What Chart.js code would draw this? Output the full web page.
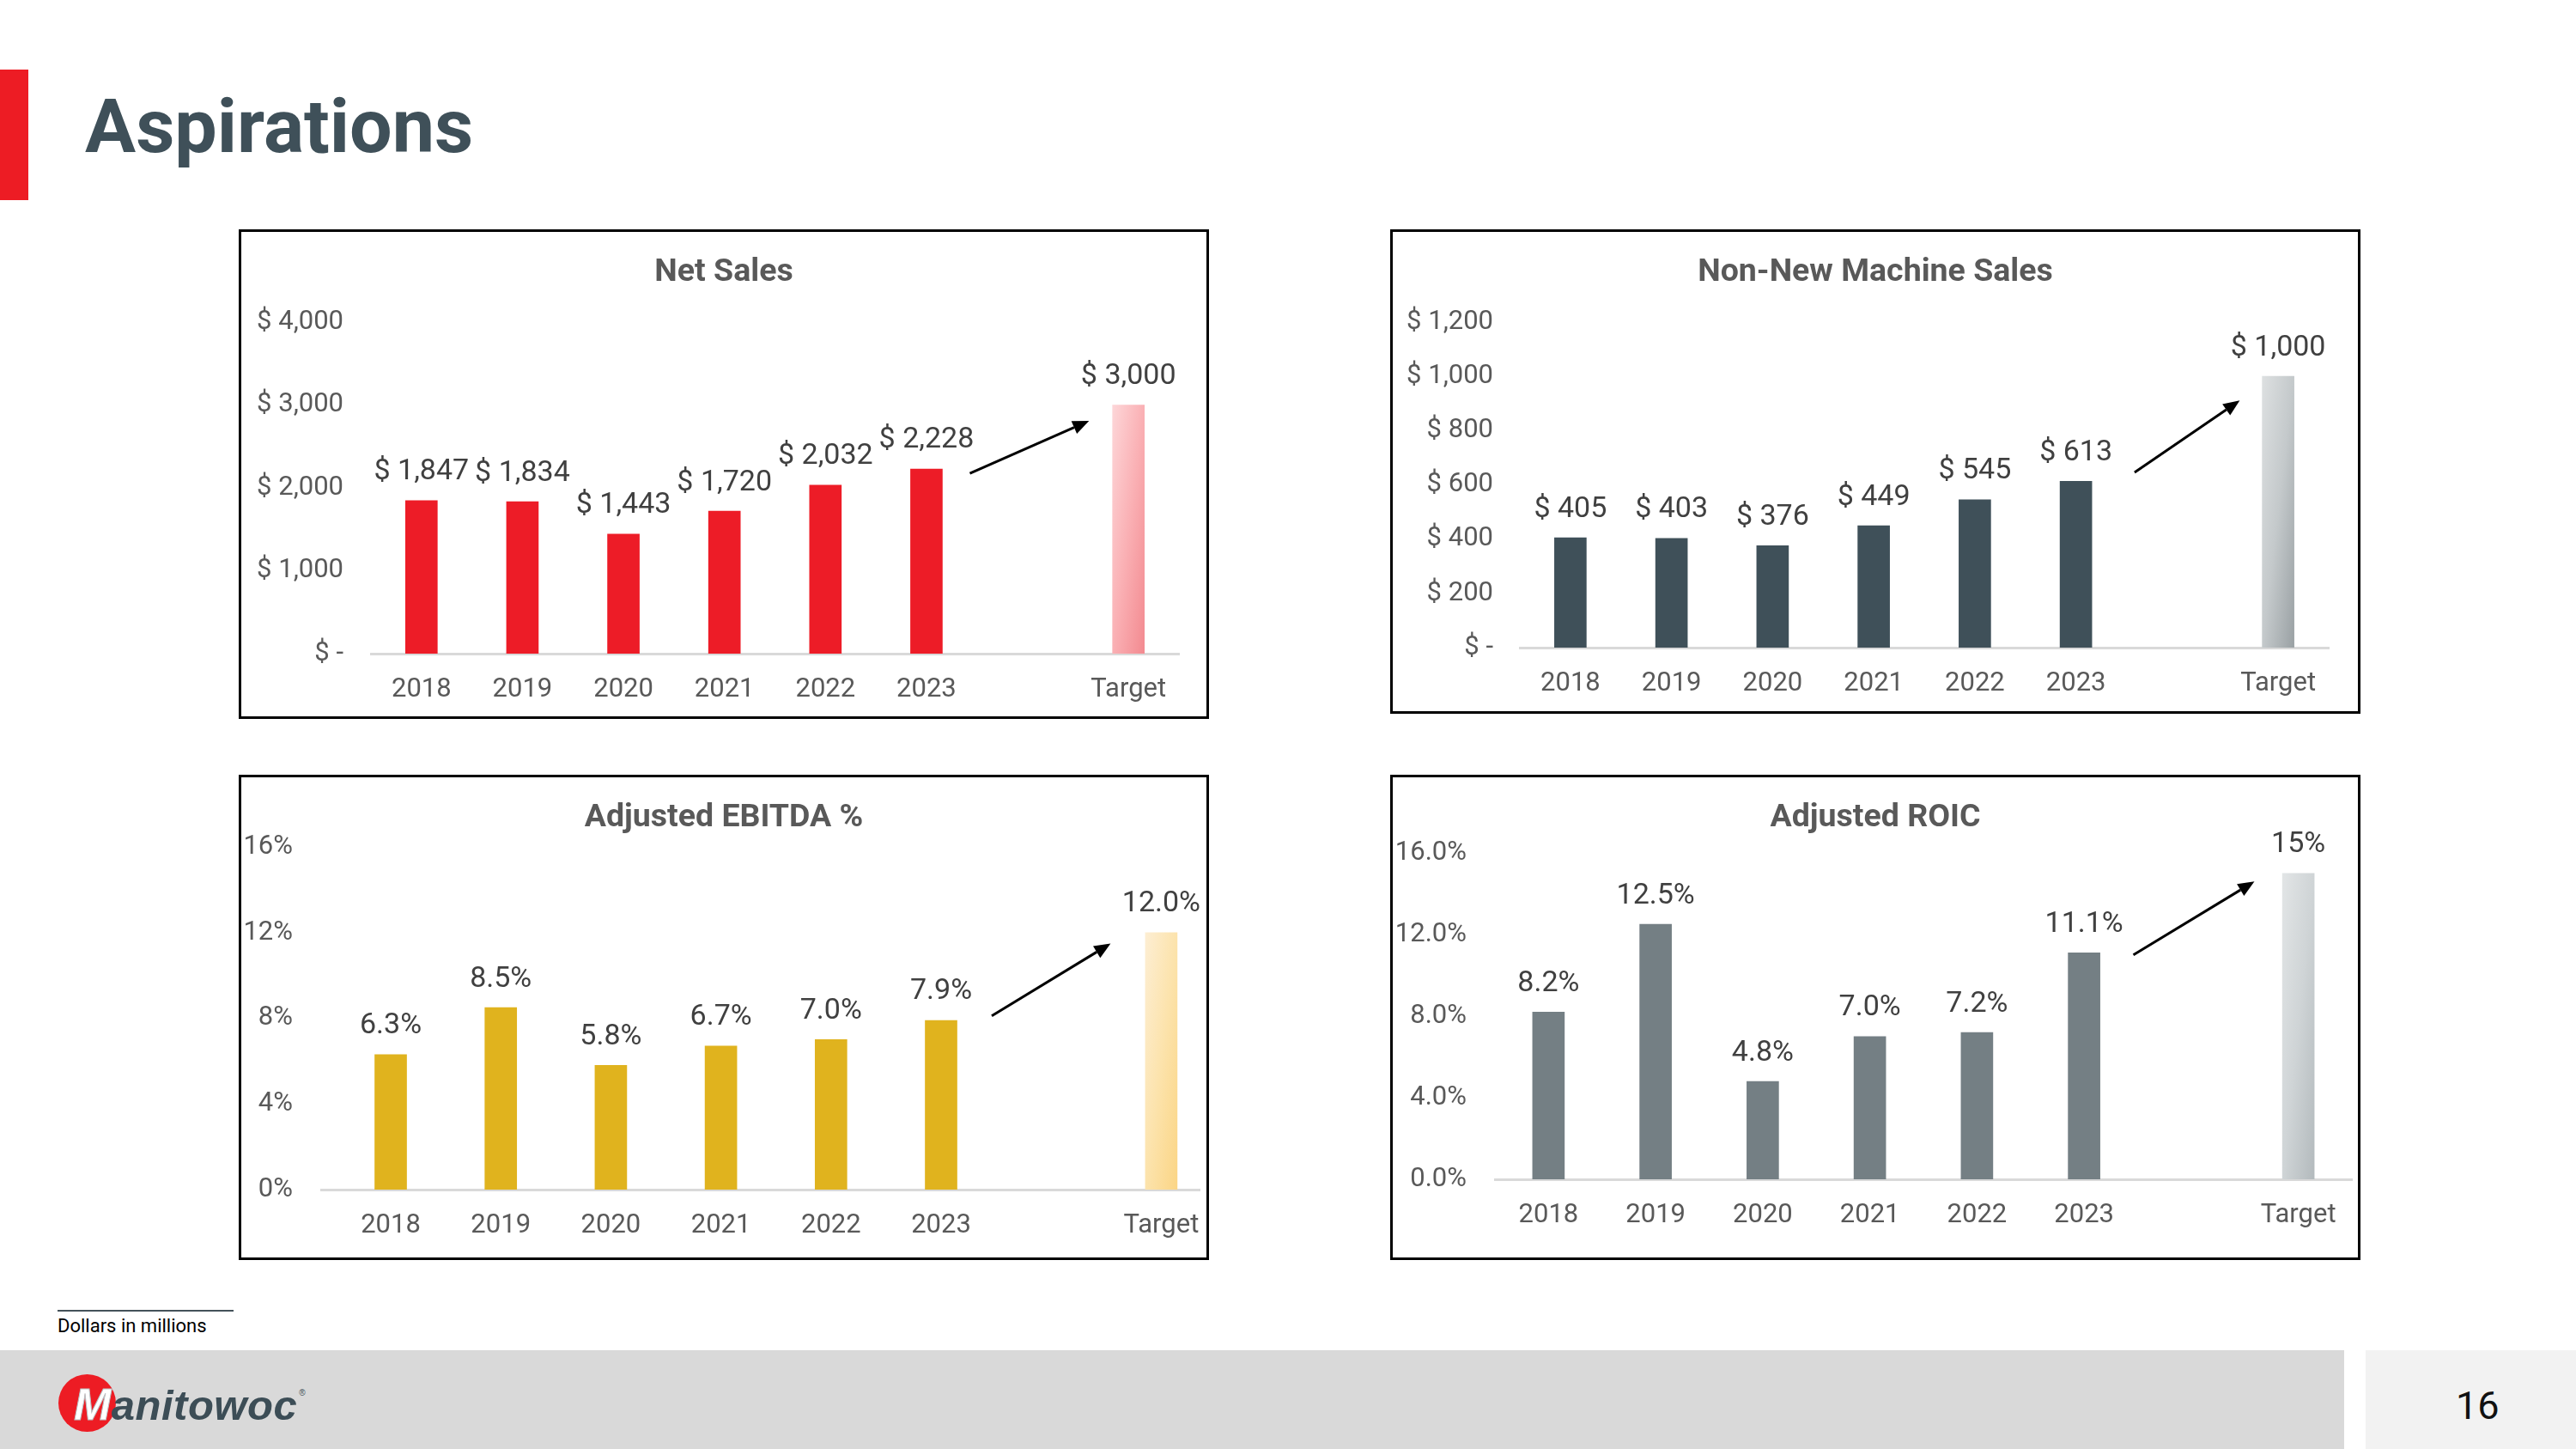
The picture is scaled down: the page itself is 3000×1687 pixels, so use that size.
<!DOCTYPE html>
<html>
<head>
<meta charset="utf-8">
<title>Aspirations</title>
<script src="https://cdn.jsdelivr.net/npm/chart.js@4.4.1/dist/chart.umd.min.js"></script>
<style>
  html, body { margin: 0; padding: 0; }
  body { width: 3000px; height: 1687px; position: relative; overflow: hidden; background: #fff; font-family: Roboto, sans-serif; }
  .abs { position: absolute; }
  .box { position: absolute; border: 3px solid #000; box-sizing: border-box; width: 1130px; background: #fff; }
  .box canvas { display: block; }
  #pageTitle { left: 99px; top: 103px; font: bold 88px/1 Roboto, sans-serif; color: #3f5059; white-space: nowrap; }
  #redTab { left: 0; top: 81px; width: 33px; height: 152px; background: #ed1c24; }
  #noteLine { left: 67px; top: 1525px; width: 205px; height: 2px; background: #44525a; }
  #note { left: 67px; top: 1533px; font: 22px/1 Roboto, sans-serif; color: #000; white-space: nowrap; }
  #footer { left: 0; top: 1572px; width: 2730px; height: 115px; background: #d9d9d9; }
  #pageBox { left: 2755px; top: 1572px; width: 245px; height: 115px; background: #f2f2f2; }
  #pageNum { left: 2860px; top: 1614px; font: 45px/1 Roboto, sans-serif; color: #111; }
  #logoDot { left: 68px; top: 1600px; width: 67px; height: 67px; border-radius: 50%; background: #ed1c24; }
  #logoText { left: 86px; top: 1609px; font: italic bold 49px/1 "Liberation Sans", Arial, sans-serif; color: #3c4d56; white-space: nowrap; letter-spacing: 0.5px; }
  #logoText .m { color: #fff; -webkit-text-stroke: 1px #b9bfc2; font-size: 52px; }
  #logoText sup { font-size: 10px; font-style: normal; font-weight: normal; vertical-align: 28px; margin-left: 2px; }
</style>
</head>
<body>
<div class="abs" id="redTab"></div>
<div class="abs" id="pageTitle">Aspirations</div>

<div class="box" style="left:278px; top:267px; height:570px;"><canvas id="netSalesChart" width="1124" height="564"></canvas></div>
<div class="box" style="left:1619px; top:267px; height:564px;"><canvas id="nonNewChart" width="1124" height="558"></canvas></div>
<div class="box" style="left:278px; top:902px; height:565px;"><canvas id="ebitdaChart" width="1124" height="559"></canvas></div>
<div class="box" style="left:1619px; top:902px; height:565px;"><canvas id="roicChart" width="1124" height="559"></canvas></div>

<div class="abs" id="noteLine"></div>
<div class="abs" id="note">Dollars in millions</div>

<div class="abs" id="footer"></div>
<div class="abs" id="pageBox"></div>
<div class="abs" id="pageNum">16</div>
<div class="abs" id="logoDot"></div>
<div class="abs" id="logoText"><span class="m">M</span>anitowoc<sup>®</sup></div>

<script>
// categories: six years, an empty gap slot, then the target
const categories = ['2018', '2019', '2020', '2021', '2022', '2023', '', 'Target'];

// series values (null = gap slot)
const netSales    = [1847, 1834, 1443, 1720, 2032, 2228, null, 3000];
const nonNewSales = [405, 403, 376, 449, 545, 613, null, 1000];
const ebitdaPct   = [6.3, 8.5, 5.8, 6.7, 7.0, 7.9, null, 12.0];
const roicPct     = [8.2, 12.5, 4.8, 7.0, 7.2, 11.1, null, 15];

// y-axis tick values
const netSalesTicks = [0, 1000, 2000, 3000, 4000];
const nonNewTicks   = [0, 200, 400, 600, 800, 1000, 1200];
const ebitdaTicks   = [0, 4, 8, 12, 16];
const roicTicks     = [0, 4, 8, 12, 16];

// trend arrows in data units: [x from, y from, x to, y to]
const netSalesArrow = [5.43, 2176, 6.61, 2808];
const nonNewArrow   = [5.58, 646, 6.62, 911];
const ebitdaArrow   = [5.46, 8.11, 6.54, 11.49];
const roicArrow     = [5.46, 11.0, 6.59, 14.6];

Chart.defaults.font.family = 'Roboto, sans-serif';
Chart.defaults.color = '#595959';

const dollars = v => v === 0 ? '$ -' : '$ ' + v.toLocaleString('en-US');

// value labels above the bars + the trend arrow
const overlay = {
    id: 'overlay',
    afterDatasetsDraw(chart, args, opts) {
        const ctx = chart.ctx;
        const ds = chart.data.datasets[0];
        const meta = chart.getDatasetMeta(0);
        ctx.save();
        ctx.font = '34px Roboto, sans-serif';
        ctx.fillStyle = '#404040';
        ctx.textAlign = 'center';
        ctx.textBaseline = 'middle';
        meta.data.forEach((bar, i) => {
            const d = ds.data[i];
            ctx.fillText(opts.fmt(d.y, d.x), bar.x, bar.y - opts.gap);
        });

        const [x0, y0, x1, y1] = opts.arrow;
        const xs = chart.scales.x, ys = chart.scales.y;
        const ax = xs.getPixelForValue(x0), ay = ys.getPixelForValue(y0);
        const bx = xs.getPixelForValue(x1), by = ys.getPixelForValue(y1);
        const ang = Math.atan2(by - ay, bx - ax);
        const head = 19, half = 8;
        const hx = bx - head * Math.cos(ang), hy = by - head * Math.sin(ang);
        ctx.strokeStyle = '#000';
        ctx.fillStyle = '#000';
        ctx.lineWidth = 3;
        ctx.beginPath();
        ctx.moveTo(ax, ay);
        ctx.lineTo(hx, hy);
        ctx.stroke();
        ctx.beginPath();
        ctx.moveTo(bx, by);
        ctx.lineTo(hx + half * Math.sin(ang), hy - half * Math.cos(ang));
        ctx.lineTo(hx - half * Math.sin(ang), hy + half * Math.cos(ang));
        ctx.closePath();
        ctx.fill();
        ctx.restore();
    }
};

// target bar fill: light top-left to dark bottom-right
function targetFill(chart, xVal, yVal, stops) {
    const xs = chart.scales.x, ys = chart.scales.y;
    const half = 18.5;
    const left = xs.getPixelForValue(xVal) - half;
    const top = ys.getPixelForValue(yVal);
    const w = half * 2, h = ys.getPixelForValue(0) - top;
    const t = 2 * w * h / (w * w + h * h);
    const g = chart.ctx.createLinearGradient(left, top, left + t * h, top + t * w);
    g.addColorStop(0, stops[0]);
    g.addColorStop(0.5, stops[1]);
    g.addColorStop(1, stops[2]);
    return g;
}

function makeChart(id, cfg) {
    const points = categories.map((c, i) => ({ x: i, y: cfg.values[i] })).filter(p => p.y !== null);
    return new Chart(document.getElementById(id), {
        type: 'bar',
        data: {
            datasets: [{
                data: points,
                barThickness: 37,
                borderWidth: 0,
                backgroundColor: c => {
                    const d = c.raw;
                    if (!d || categories[d.x] !== 'Target') return cfg.color;
                    if (!c.chart.chartArea) return cfg.grad[1];
                    return targetFill(c.chart, d.x, d.y, cfg.grad);
                }
            }]
        },
        options: {
            responsive: false,
            animation: false,
            events: [],
            layout: { padding: 0 },
            plugins: {
                legend: { display: false },
                tooltip: { enabled: false },
                title: {
                    display: true,
                    text: cfg.title,
                    color: '#595959',
                    font: { size: 37.5, weight: 'bold' },
                    padding: { top: 25.5, bottom: cfg.titleGap }
                },
                overlay: { fmt: cfg.labelFmt, arrow: cfg.arrow, gap: 33 }
            },
            scales: {
                x: {
                    type: 'linear',
                    offset: false,
                    min: cfg.xRange[0],
                    max: cfg.xRange[1],
                    grid: { display: false, drawTicks: true, tickLength: 24 },
                    border: { display: true, color: '#d9d9d9', width: 3 },
                    afterBuildTicks: s => { s.ticks = categories.map((c, i) => ({ value: i })); },
                    afterFit: s => { s.height = cfg.xHeight; },
                    ticks: {
                        autoSkip: false,
                        maxRotation: 0,
                        padding: 0,
                        color: '#595959',
                        font: { size: 31 },
                        callback: v => categories[v]
                    }
                },
                y: {
                    min: cfg.ticks[0],
                    max: cfg.ticks[cfg.ticks.length - 1],
                    grid: { display: false, drawTicks: true, tickLength: cfg.tickPad },
                    border: { display: false },
                    afterBuildTicks: s => { s.ticks = cfg.ticks.map(v => ({ value: v })); },
                    afterFit: s => { s.width = cfg.yWidth; },
                    ticks: {
                        padding: 0,
                        color: '#595959',
                        font: { size: 31 },
                        callback: cfg.tickFmt
                    }
                },
                // empty right-hand spacer so the plot ends where the reference does
                yRight: {
                    position: 'right',
                    display: true,
                    grid: { display: false, drawTicks: false },
                    border: { display: false },
                    ticks: { display: false },
                    afterFit: s => { s.width = cfg.padRight; }
                }
            }
        },
        plugins: [overlay]
    });
}

makeChart('netSalesChart', {
    title: 'Net Sales',
    values: netSales, ticks: netSalesTicks, arrow: netSalesArrow,
    color: '#ed1c27', grad: ['#fdd6d8', '#fab0b4', '#f38a90'],
    tickFmt: dollars, labelFmt: v => dollars(v),
    xRange: [-0.5, 7.5], yWidth: 151, padRight: 32, xHeight: 73, titleGap: 34.5, tickPad: 32
});

makeChart('nonNewChart', {
    title: 'Non-New Machine Sales',
    values: nonNewSales, ticks: nonNewTicks, arrow: nonNewArrow,
    color: '#3f5059', grad: ['#dde0e1', '#c4c9cb', '#9aa1a4'],
    tickFmt: dollars, labelFmt: v => dollars(v),
    xRange: [-0.5, 7.5], yWidth: 148, padRight: 34, xHeight: 74, titleGap: 34.5, tickPad: 31
});

makeChart('ebitdaChart', {
    title: 'Adjusted EBITDA %',
    values: ebitdaPct, ticks: ebitdaTicks, arrow: ebitdaArrow,
    color: '#e0b31e', grad: ['#fdeed3', '#fce3ac', '#fbd585'],
    tickFmt: v => v + '%', labelFmt: v => v.toFixed(1) + '%',
    xRange: [-0.632, 7.348], yWidth: 93, padRight: 8, xHeight: 79, titleGap: 10.5, tickPad: 33
});

makeChart('roicChart', {
    title: 'Adjusted ROIC',
    values: roicPct, ticks: roicTicks, arrow: roicArrow,
    color: '#747f84', grad: ['#e2e5e6', '#cfd4d6', '#b3babd'],
    tickFmt: v => v.toFixed(1) + '%',
    labelFmt: (v, i) => categories[i] === 'Target' ? v.toFixed(0) + '%' : v.toFixed(1) + '%',
    xRange: [-0.5, 7.5], yWidth: 119, padRight: 7, xHeight: 91, titleGap: 17.5, tickPad: 33
});
</script>
</body>
</html>
